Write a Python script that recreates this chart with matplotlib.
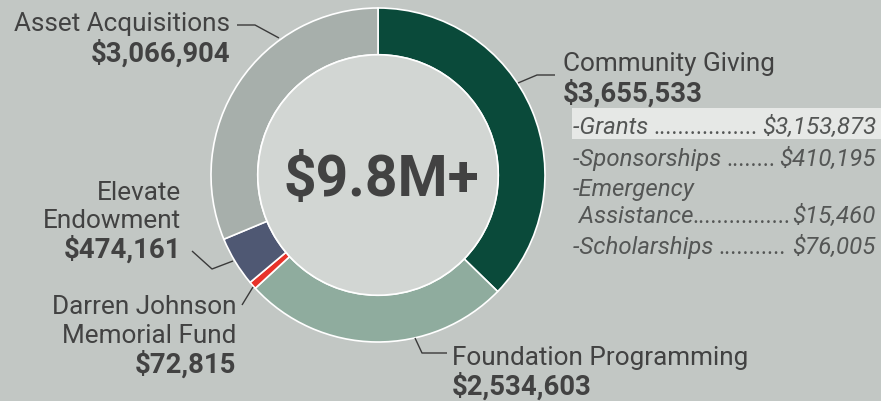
import matplotlib
matplotlib.use("Agg")
import matplotlib.pyplot as plt
from matplotlib.patches import Circle, Rectangle

categories = ["Community Giving", "Foundation Programming", "Darren Johnson\nMemorial Fund",
              "Elevate\nEndowment", "Asset Acquisitions"]
values = [3655533, 2534603, 72815, 474161, 3066904]
colors = ["#0a4a3a", "#8fac9e", "#e8332a", "#4f5873", "#a7afab"]
center_label = "$9.8M+"
sub_labels = ["-Grants", "-Sponsorships", "-Emergency\n Assistance", "-Scholarships"]
sub_values = [3153873, 410195, 15460, 76005]

BG = "#c2c7c4"
TXT = "#424242"
SUB = "#545655"
FONT = "Roboto"

W, H = 881, 401
fig = plt.figure(figsize=(W / 100, H / 100), dpi=100, facecolor=BG)
ax = fig.add_axes([0, 0, 1, 1])
ax.set_facecolor(BG)

def Y(y):
    return H - y

cx, cy, R = 378, 175, 167
ax.pie(values, colors=colors, startangle=90, counterclock=False, center=(cx, Y(cy)),
       radius=R, frame=True, wedgeprops=dict(edgecolor="white", linewidth=1.2, width=R * 0.28))
ax.set_xlim(0, W)
ax.set_ylim(0, H)
ax.set_aspect("auto")
ax.axis("off")
ax.add_patch(Circle((cx, Y(cy)), R * 0.72, facecolor="#d2d6d3", edgecolor="white", lw=1.2, zorder=5))
ax.text(cx + 3, Y(cy), center_label, ha="center", va="center_baseline", fontsize=41,
        fontweight="bold", color=TXT, family=FONT, zorder=6)

def money(v):
    return "${:,}".format(v)

lab_fs = 18.8
bold_fs = 19.8
LS = 28.5

def label(x, y, name, val, ha):
    lines = name.split("\n")
    for i, ln in enumerate(lines):
        ax.text(x, Y(y + LS * i), ln, ha=ha, va="center_baseline", fontsize=lab_fs, color=TXT,
                family=FONT)
    ax.text(x, Y(y + LS * len(lines)), money(val), ha=ha, va="center_baseline",
            fontsize=bold_fs, fontweight="bold", color=TXT, family=FONT)

def leader(pts):
    xs = [p[0] for p in pts]
    ys = [Y(p[1]) for p in pts]
    ax.plot(xs, ys, color="#3a3a3a", lw=1.0, solid_capstyle="butt")

label(563, 62, categories[0], values[0], "left")
leader([(518, 83), (537, 75), (555, 75)])
label(452, 355, categories[1], values[1], "left")
leader([(415, 338), (422, 353), (447, 353)])
label(236, 305, categories[2], values[2], "right")
leader([(242, 305), (253, 287)])
label(181, 190, categories[3], values[3], "right")
leader([(192, 251), (212, 269), (233, 261)])
label(230, 22, categories[4], values[4], "right")
leader([(237, 25), (255, 25), (279, 38)])

# sub items
ax.add_patch(Rectangle((572, Y(139)), W - 572, 31, facecolor="#e6e8e6", edgecolor="none", zorder=1))
sub_fs = 17.3
sub_y = [125, 157, 214, 245]
renderer = fig.canvas.get_renderer()
for lab, v, yy in zip(sub_labels, sub_values, sub_y):
    parts = lab.split("\n")
    if len(parts) == 2:
        ax.text(573, Y(yy - 27), parts[0], ha="left", va="center_baseline", fontsize=sub_fs,
                style="italic", color=SUB, family=FONT, zorder=3)
    t1 = ax.text(573, Y(yy), parts[-1] + (" " if len(parts) == 1 else ""), ha="left",
                 va="center_baseline", fontsize=sub_fs, style="italic", color=SUB, family=FONT, zorder=3)
    t2 = ax.text(876, Y(yy), money(v), ha="right", va="center_baseline", fontsize=sub_fs,
                 style="italic", color=SUB, family=FONT, zorder=3)
    x0 = t1.get_window_extent(renderer).x1
    x1 = t2.get_window_extent(renderer).x0 - 1
    dots = ""
    while True:
        td = ax.text(x0, Y(yy), dots + ".", ha="left", va="center_baseline", fontsize=sub_fs,
                     style="italic", color=SUB, family=FONT, zorder=3)
        wdt = td.get_window_extent(renderer).x1
        td.remove()
        if wdt > x1:
            break
        dots += "."
    ax.text(x0, Y(yy), dots, ha="left", va="center_baseline", fontsize=sub_fs,
            style="italic", color=SUB, family=FONT, zorder=3)

fig.savefig("out.png", dpi=100, facecolor=BG)
